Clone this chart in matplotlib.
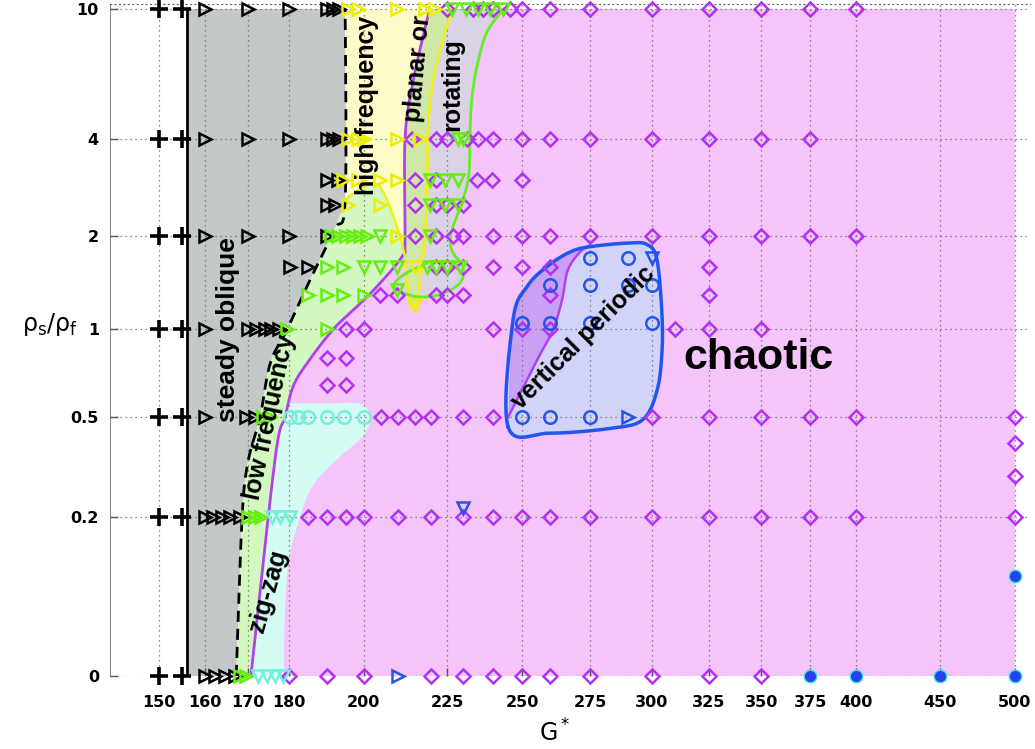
import numpy as np
import matplotlib.pyplot as plt
from matplotlib.ticker import FixedLocator, FixedFormatter, NullLocator

# axis ticks
g_ticks = [150, 160, 170, 180, 200, 225, 250, 275, 300, 325, 350, 375, 400, 450, 500]
rho_ticks = [0, 0.2, 0.5, 1, 2, 4, 10]

# runs, grouped by density ratio -> list of G*
steady_vertical = {r: [150, 155] for r in rho_ticks}

steady_oblique = {
    10: [160, 170, 180, 190, 191.5, 193.3],
    4: [160, 170, 180, 190, 191.5, 193.3],
    3: [190, 193],
    2.5: [190, 192],
    2: [160, 170, 180, 190],
    1.6: [180.4, 185],
    1: [160, 170, 172, 174, 175.5, 177.5],
    0.5: [160, 169.6, 171.6],
    0.2: [160, 161.8, 163.8, 165.7, 168],
    0: [160, 162.3, 164.6, 166.9],
}

low_freq = {
    2: [191, 193, 195, 197, 199, 201],
    1.6: [190, 194.3],
    1.3: [185, 190, 194.3, 200],
    1: [179.5, 190],
    0.5: [173.7, 175.3],
    0.2: [170, 171.6, 173.2],
    0: [168.1, 169.6],
}

green_down = {
    10: [226.5, 231, 235, 239, 243.5],
    4: [228.4, 230],
    3: [219.6, 224.3, 228.4],
    2.5: [219.6, 224.3, 228.4],
    2: [204.7, 219.6],
    1.6: [200, 204.7, 209.6, 218.7, 221.5, 225, 229],
    1.35: [209.6],
}

high_freq = {
    10: [195.7, 198.5, 209.6, 218, 221],
    4: [195.7, 198.5, 200, 209.6, 216.5],
    3: [194.3, 198.5, 204.7, 209.6],
    2.5: [195.7, 204.7],
    2: [209.6],
}
yellow_down = {1.6: [215], 1.2: [215]}

zigzag_circle = {0.5: [180.4, 182.4, 185, 190, 194.5, 200]}
zigzag_down = {0.2: [175.8, 177.9, 180.4], 0: [172.4, 174.6, 176.6, 178.6]}

chaotic = {
    10: [225, 233.3, 236.6, 240, 245.8, 250, 260, 275, 300, 325, 350, 375, 400],
    4: [214.1, 221.5, 225, 231.3, 234.9, 240, 250, 260, 275, 300, 325, 350, 375],
    3: [215, 221.5, 234.6, 239.6, 250],
    2.5: [215, 221.5, 225, 230],
    2: [215, 221.5, 226.8, 230, 240, 250, 260, 275, 300, 325, 350, 375, 400],
    1.6: [221.5, 225, 230, 240, 250, 260, 325],
    1.3: [204.7, 209.6, 221.5, 225, 230, 260, 325],
    1: [195, 200, 240, 250, 260, 310, 325, 350],
    0.8: [190, 195],
    0.65: [190, 195],
    0.5: [205, 210, 215, 220, 230, 240, 300, 325, 350, 375, 400, 500],
    0.4: [500],
    0.3: [500],
    0.2: [185, 190, 195, 200, 210, 220, 230, 240, 250, 260, 275, 300, 325, 350, 375, 400, 500],
    0: [180, 190, 200, 220, 230, 240, 250, 260, 275, 300, 325, 350],
}

vert_circle = {
    1.7: [275, 290],
    1.4: [260, 275, 290, 300],
    1.05: [250, 260, 275, 300],
    0.5: [250, 260, 275],
}
blue_down = {1.7: [300], 0.22: [230]}
blue_right = {0: [210], 0.5: [290]}
blue_filled = {0: [375, 400, 450, 500], 0.1: [500]}

# regime boundaries (G*, rho_s/rho_f)
oblique_edge_g = [156, 156]
oblique_edge_rho = [0, 10]
dashed_g = [167.2, 168.6, 170, 172.9, 175.4, 179.6, 185.5, 192, 194.9, 194.9]
dashed_rho = [0, 0.2, 0.34, 0.5, 0.77, 1.0, 1.45, 2.1, 2.6, 10]
purple_g = [170.7, 176.6, 179.1, 181.1, 184.7, 191.6, 198.2, 203.8, 211.1, 212, 212, 214.4, 218.7, 219.6]
purple_rho = [0, 0.35, 0.5, 0.64, 0.77, 1.0, 1.19, 1.38, 1.72, 1.94, 4, 6, 9.3, 10]
lowfreq_top_g = [194.9, 200, 204.7, 209.6, 212]
lowfreq_top_rho = [2.6, 2.85, 2.85, 2.14, 1.72]
yellow_g = [226.8, 224.3, 220.5, 219, 218.7, 218, 217.1, 215.6, 214.1, 213.3, 212]
yellow_rho = [10, 8.5, 6, 4.2, 2.6, 2.05, 1.6, 1.25, 1.18, 1.25, 1.68]
green_g = [243.5, 237.9, 234.6, 232.9, 232.3, 232, 230, 226.8, 225.9, 226.8, 230, 229.1,
           222.7, 215.6, 209.6, 209, 212.6, 218.7]
green_rho = [10, 8.5, 6.7, 5.3, 4.2, 3.15, 2.6, 2.14, 1.94, 1.77, 1.6, 1.42,
             1.3, 1.28, 1.35, 1.42, 1.53, 1.64]
zigzag_edge_g = [180.4, 190, 198.5, 201.2, 201.8, 199.5, 192.9, 186, 182.5, 180, 179, 178.8]
zigzag_edge_rho = [0.56, 0.56, 0.56, 0.53, 0.48, 0.42, 0.35, 0.27, 0.19, 0.12, 0.05, 0]
periodic_g = [245.1, 246.8, 251.7, 258.9, 267.4, 275, 289.7, 298, 302.2, 304.3, 304.3,
              302.2, 296.3, 284, 260]
periodic_rho = [0.46, 1.075, 1.38, 1.6, 1.78, 1.85, 1.9, 1.88, 1.68, 1.13, 0.835,
                0.62, 0.49, 0.456, 0.437]
inner_g = [245.1, 255.3, 261.1, 264.4, 266.6, 271.2, 275]
inner_rho = [0.5, 0.79, 1.0, 1.25, 1.56, 1.78, 1.87]


def fwd(r):
    return np.log(np.clip(np.asarray(r, float) + 0.1, 1e-6, None))


def inv(t):
    return np.exp(t) - 0.1


def smooth(gs, rs, n=12, closed=False):
    # Catmull-Rom through the points, in the plotted (log G, log(rho+0.1)) space
    pts = np.column_stack([np.log(gs), fwd(rs)])
    if closed:
        p = np.vstack([pts[-1], pts, pts[0], pts[1]])
        nseg = len(pts)
    else:
        p = np.vstack([pts[0], pts, pts[-1]])
        nseg = len(pts) - 1
    t = np.linspace(0, 1, n, endpoint=False)[:, None]
    out = []
    for i in range(1, nseg + 1):
        p0, p1, p2, p3 = p[i - 1], p[i], p[i + 1], p[i + 2]
        out.append(0.5 * (2 * p1 + (-p0 + p2) * t + (2 * p0 - 5 * p1 + 4 * p2 - p3) * t ** 2
                          + (-p0 + 3 * p1 - 3 * p2 + p3) * t ** 3))
    out.append(p[nseg + 1:nseg + 2] if closed else pts[-1:])
    out = np.vstack(out)
    return np.exp(out[:, 0]), inv(out[:, 1])


def rows_xy(rows):
    g = [x for r, gs in rows.items() for x in gs]
    rho = [r for r, gs in rows.items() for _ in gs]
    return g, rho


fig = plt.figure(figsize=(10.35, 7.49), dpi=100)
ax = fig.add_axes([110 / 1035, 73 / 749, 920 / 1035, 672 / 749])
ax.set_xscale('log')
ax.set_yscale('function', functions=(fwd, inv))
ax.set_xlim(140, 510.7)
ax.set_ylim(0, 10.36)

# smoothed boundaries
dg, dr = smooth(dashed_g, dashed_rho)
pg, pr = smooth(purple_g, purple_rho)
tg, tr = smooth(lowfreq_top_g, lowfreq_top_rho, n=8)
yg, yr = smooth(yellow_g, yellow_rho)
gg, gr = smooth(green_g, green_rho)
zg, zr = smooth(zigzag_edge_g, zigzag_edge_rho)
bg, br = smooth(periodic_g, periodic_rho, closed=True)
ig, ir = smooth(inner_g, inner_rho)

# regime fills
ax.fill(np.r_[pg, 500, 500], np.r_[pr, 10, 0], color='#f4c4fb', lw=0, zorder=1)
ax.fill(np.r_[156, 156, dg[::-1]], np.r_[0, 10, dr[::-1]], color='#c3c8c8', lw=0, zorder=1)
lo = dr <= 2.1
plo = pr <= 1.73
ax.fill(np.r_[dg[lo], tg, pg[plo][::-1]], np.r_[dr[lo], tr, pr[plo][::-1]],
        color='#d3f8c0', lw=0, zorder=1)
hi = dr >= 2.6
phi = pr >= 1.72
ax.fill(np.r_[dg[hi][::-1], tg, pg[phi]], np.r_[dr[hi][::-1], tr, pr[phi]],
        color='#fdfcc8', lw=0, zorder=1)
ax.fill(np.r_[pg[phi], yg], np.r_[pr[phi], yr], color='#cfe7a7', lw=0, zorder=1)
yr_part = yr >= 1.25
gtop = gr >= 1.29
ax.fill(np.r_[yg[yr_part], gg[gtop][::-1]], np.r_[yr[yr_part], gr[gtop][::-1]],
        color='#dad3e6', lw=0, zorder=1)
pz = pr <= 0.56
ax.fill(np.r_[pg[pz], zg], np.r_[pr[pz], zr], color='#d5fcf4', lw=0, zorder=1)
ax.fill(bg, br, color='#d2d3f8', lw=0, zorder=1.2)
lg, lr = smooth(periodic_g[:6][::-1], periodic_rho[:6][::-1])
ax.fill(np.r_[ig, lg], np.r_[ir, lr], color='#c9a0f3', lw=0, zorder=1.3)

# boundary lines
ax.plot(oblique_edge_g, oblique_edge_rho, color='black', lw=2, zorder=3)
ax.plot(dg, dr, color='black', lw=2, ls=(0, (4, 2.5)), zorder=3)
ax.plot(pg, pr, color='#b040f0', lw=2, zorder=3)
ax.plot(np.r_[tg[:-1]], np.r_[tr[:-1]], color='#eeee20', lw=1.8, zorder=3)
ax.plot(yg, yr, color='#eeee20', lw=2, zorder=3)
ax.plot(gg, gr, color='#66ee22', lw=2, zorder=3)
ax.plot(ig, ir, color='#b040f0', lw=1.8, zorder=3)
ax.plot(bg, br, color='#2255ee', lw=2.5, zorder=3)


def markers(rows, marker, color, ms, mew=1.8, filled=False, edge=None):
    g, rho = rows_xy(rows)
    ax.plot(g, rho, ls='none', marker=marker, ms=ms, mew=mew,
            mfc=color if filled else 'none', mec=edge or color,
            clip_on=False, zorder=4)


markers(chaotic, 'D', '#b232f2', 7.3)
markers(steady_vertical, '+', 'black', 13, mew=2.6)
markers(steady_oblique, '>', 'black', 9)
markers(low_freq, '>', '#66ee11', 9)
markers(green_down, 'v', '#66ee11', 9)
markers(high_freq, '>', '#eeee00', 9)
markers(yellow_down, 'v', '#eeee00', 9)
markers(zigzag_circle, 'o', '#72f0d8', 9)
markers(zigzag_down, 'v', '#72f0d8', 9)
markers(vert_circle, 'o', '#2255ee', 9)
markers(blue_down, 'v', '#2255ee', 9)
markers(blue_right, '>', '#2255ee', 9)
markers(blue_filled, 'o', '#2244ee', 9, mew=1, filled=True, edge='#40e0e0')

# regime labels
lab = dict(family=['Liberation Sans', 'DejaVu Sans'], fontweight='bold', color='black',
           ha='center', va='center', zorder=5)
ax.text(165.3, 1.0, 'steady oblique', rotation=90, fontsize=19, **lab)
ax.text(175.4, 0.5, 'low frequency', rotation=78, fontsize=18, **lab)
ax.text(174.9, 0.08, 'zig-zag', rotation=74, fontsize=18, **lab)
ax.text(201, 5.1, 'high frequency', rotation=90, fontsize=18, **lab)
ax.text(215.9, 6.6, 'planar or', rotation=85, fontsize=18, **lab)
ax.text(226.5, 5.9, 'rotating', rotation=90, fontsize=18, **lab)
ax.text(272.3, 0.94, 'vertical periodic', rotation=45, fontsize=18, **lab)
ax.text(348.8, 0.8, 'chaotic', fontsize=31, **lab)

# axes styling
ax.xaxis.set_major_locator(FixedLocator(g_ticks))
ax.xaxis.set_major_formatter(FixedFormatter([str(v) for v in g_ticks]))
ax.xaxis.set_minor_locator(NullLocator())
ax.yaxis.set_major_locator(FixedLocator(rho_ticks))
ax.yaxis.set_major_formatter(FixedFormatter([str(v) for v in rho_ticks]))
ax.yaxis.set_minor_locator(NullLocator())
ax.tick_params(axis='both', direction='in', length=6, width=1, color='#555')
ax.tick_params(axis='x', pad=14)
ax.tick_params(axis='y', pad=8)
for lbl in ax.get_xticklabels() + ax.get_yticklabels():
    lbl.set_fontfamily('DejaVu Sans')
    lbl.set_fontweight('bold')
    lbl.set_fontsize(11.5)
ax.grid(True, color='#666', ls=(0, (1, 3)), lw=0.9)
ax.set_axisbelow(False)
for gl in ax.get_xgridlines() + ax.get_ygridlines():
    gl.set_zorder(2.5)
ax.spines['right'].set_visible(False)
ax.spines['bottom'].set_visible(False)
ax.spines['top'].set_linestyle((0, (1, 3)))
ax.spines['top'].set_color('#666')
ax.spines['left'].set_color('#888')

fig.text(50 / 1035, 1 - 325 / 749, r'$\mathregular{\rho_s/\rho_f}$', fontsize=17,
         ha='center', va='center')
fig.text(555 / 1035, 1 - 733 / 749, r'$\mathregular{G^*}$', fontsize=17,
         ha='center', va='center')

fig.savefig('out.png', dpi=100)
